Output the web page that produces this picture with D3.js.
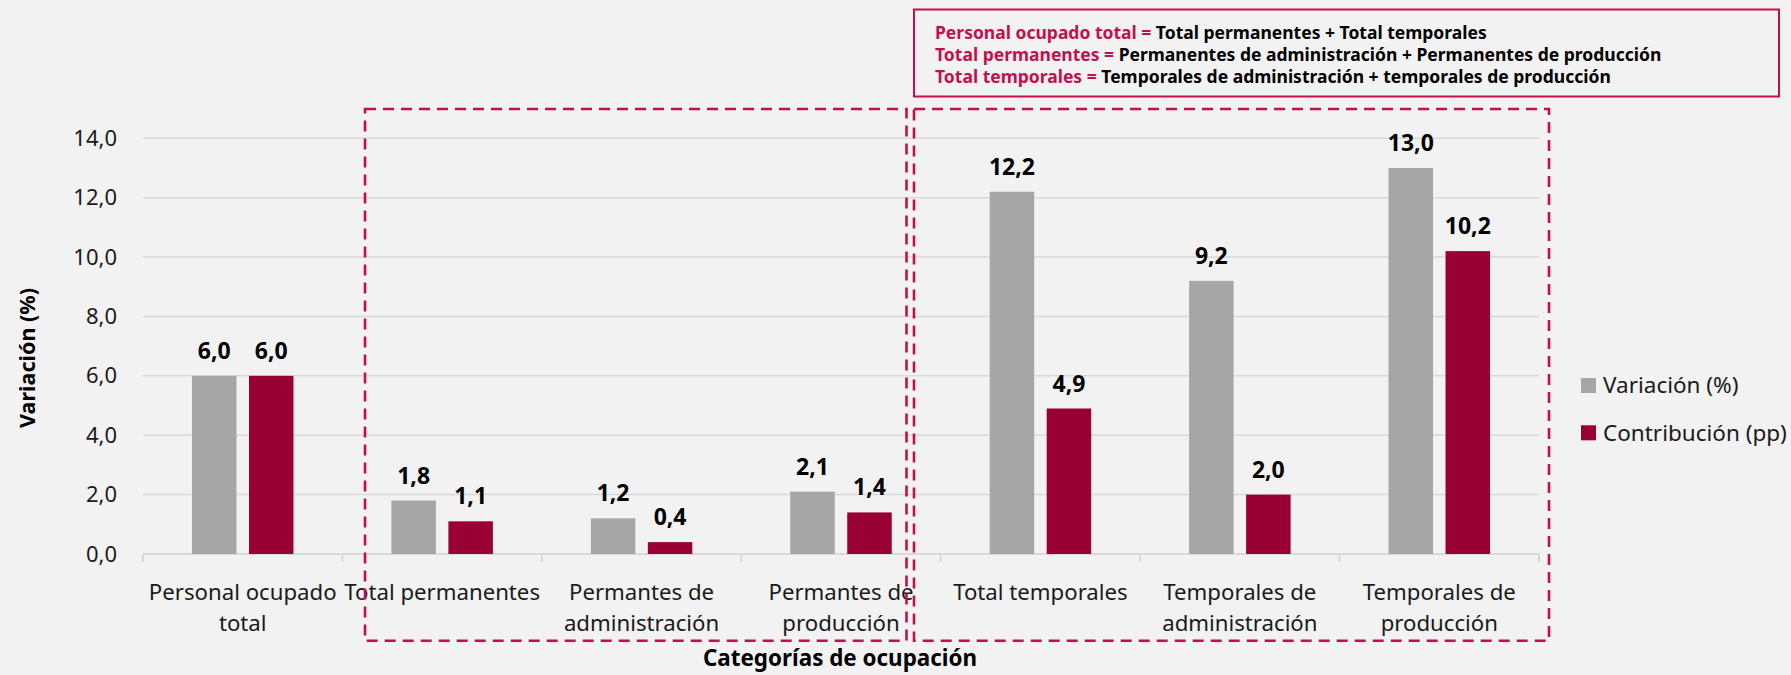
<!DOCTYPE html>
<html>
<head>
<meta charset="utf-8">
<script src="https://cdn.jsdelivr.net/npm/d3@7"></script>
<style>
  html, body { margin: 0; padding: 0; background: #F2F2F2; }
  svg { display: block; font-family: "Noto Sans", "Open Sans", sans-serif; }
</style>
</head>
<body>
<svg id="chart" width="1791" height="675"></svg>
<script>
// ---- data ----
const categories = [
  "Personal ocupado total",
  "Total permanentes",
  "Permantes de administración",
  "Permantes de producción",
  "Total temporales",
  "Temporales de administración",
  "Temporales de producción"
];
const seriesNames = ["Variación (%)", "Contribución (pp)"];
const variacion = [6.0, 1.8, 1.2, 2.1, 12.2, 9.2, 13.0];
const contribucion = [6.0, 1.1, 0.4, 1.4, 4.9, 2.0, 10.2];
const yTicks = [0, 2, 4, 6, 8, 10, 12, 14];
const noteLines = [
  ["Personal ocupado total = ", "Total permanentes + Total temporales"],
  ["Total permanentes = ", "Permanentes de administración + Permanentes de producción"],
  ["Total temporales = ", "Temporales de administración + temporales de producción"]
];
const yTitle = "Variación (%)";
const xTitle = "Categorías de ocupación";

const colors = ["#A6A6A6", "#990033"];
const accent = "#C2104F";

// ---- layout ----
const svg = d3.select("#chart");
const M = { left: 143, right: 1539, top: 138.3, bottom: 554 };
const locale = d3.formatLocale({ decimal: ",", thousands: ".", grouping: [3], currency: ["", ""] });
const fmt = locale.format(".1f");

const x = d3.scaleBand().domain(categories).range([M.left, M.right]).paddingInner(0).paddingOuter(0);
const y = d3.scaleLinear().domain([0, 14]).range([M.bottom, M.top]);
const barW = 44.5, gap = 12.5;
const x1 = d3.scaleBand().domain(seriesNames).range([0, 2 * barW + gap])
  .paddingInner(gap / (barW + gap)).paddingOuter(0);

// gridlines
svg.append("g").selectAll("line").data(yTicks.filter(d => d > 0)).join("line")
  .attr("x1", M.left).attr("x2", M.right)
  .attr("y1", d => y(d)).attr("y2", d => y(d))
  .attr("stroke", "#D9D9D9").attr("stroke-width", 1.5);

// y axis labels
const yAxis = svg.append("g").attr("transform", `translate(${M.left},0)`)
  .call(d3.axisLeft(y).tickValues(yTicks).tickFormat(fmt).tickSize(0).tickPadding(26));
yAxis.select(".domain").remove();
yAxis.selectAll("text").attr("font-size", 22).attr("fill", "#1a1a1a")
  .attr("font-family", "'Noto Sans', sans-serif");

// x axis
const xAxisG = svg.append("g").attr("transform", `translate(0,${M.bottom})`);
xAxisG.append("line").attr("x1", M.left).attr("x2", M.right).attr("y1", 0).attr("y2", 0)
  .attr("stroke", "#D9D9D9").attr("stroke-width", 2);
const boundaries = categories.map(c => x(c)).concat([M.right]);
xAxisG.selectAll("line.tick").data(boundaries).join("line").attr("class", "tick")
  .attr("x1", d => d).attr("x2", d => d).attr("y1", 0).attr("y2", 8)
  .attr("stroke", "#D9D9D9").attr("stroke-width", 2);

// category labels with wrapping
const catSize = 22.2;
function wrapLines(text, maxW, size) {
  const tmp = svg.append("text").attr("font-size", size).attr("visibility", "hidden");
  const words = text.split(" ");
  const lines = [];
  let line = [];
  words.forEach(w => {
    const test = line.concat([w]).join(" ");
    tmp.text(test);
    if (tmp.node().getComputedTextLength() > maxW && line.length) {
      lines.push(line.join(" "));
      line = [w];
    } else line.push(w);
  });
  if (line.length) lines.push(line.join(" "));
  tmp.remove();
  return lines;
}
categories.forEach(c => {
  const lines = wrapLines(c, 215, catSize);
  const t = svg.append("text").attr("text-anchor", "middle").attr("font-size", catSize).attr("fill", "#1a1a1a");
  lines.forEach((l, i) => {
    t.append("tspan").attr("x", x(c) + x.bandwidth() / 2).attr("y", 599.5 + i * 31.6).text(l);
  });
});

// bars
const groupOffset = (x.bandwidth() - (2 * barW + gap)) / 2;
const seriesData = [variacion, contribucion];
seriesNames.forEach((s, si) => {
  const g = svg.append("g");
  const rows = categories.map((c, i) => ({ c, v: seriesData[si][i] }));
  g.selectAll("rect").data(rows).join("rect")
    .attr("x", d => x(d.c) + groupOffset + x1(s))
    .attr("width", x1.bandwidth())
    .attr("y", d => y(d.v))
    .attr("height", d => y(0) - y(d.v))
    .attr("fill", colors[si]);
  g.selectAll("text").data(rows).join("text")
    .attr("x", d => x(d.c) + groupOffset + x1(s) + x1.bandwidth() / 2)
    .attr("y", d => y(d.v) - 17)
    .attr("text-anchor", "middle")
    .attr("font-size", 23).attr("font-weight", "bold").attr("fill", "#000")
    .text(d => fmt(d.v));
});

// dashed group boxes
const dash = "11,7";
svg.append("rect").attr("x", 365).attr("y", 109).attr("width", 906.5 - 365).attr("height", 640.7 - 109)
  .attr("fill", "none").attr("stroke", accent).attr("stroke-width", 2.6).attr("stroke-dasharray", dash);
svg.append("rect").attr("x", 914).attr("y", 109).attr("width", 1549 - 914).attr("height", 640.7 - 109)
  .attr("fill", "none").attr("stroke", accent).attr("stroke-width", 2.6).attr("stroke-dasharray", dash);

// note box
svg.append("rect").attr("x", 914).attr("y", 9.5).attr("width", 1779 - 914).attr("height", 96.5 - 9.5)
  .attr("fill", "none").attr("stroke", accent).attr("stroke-width", 2);
noteLines.forEach((ln, i) => {
  const t = svg.append("text").attr("x", 935).attr("y", 39 + i * 21.8)
    .attr("font-size", 17.5).attr("font-weight", "bold");
  t.append("tspan").attr("fill", accent).text(ln[0]);
  t.append("tspan").attr("fill", "#000").text(ln[1]);
});

// legend
const legend = svg.append("g");
seriesNames.forEach((s, i) => {
  legend.append("rect").attr("x", 1581).attr("y", 378 + i * 47.3).attr("width", 15).attr("height", 15).attr("fill", colors[i]);
  legend.append("text").attr("x", 1603).attr("y", 385.5 + i * 47.3).attr("dy", "0.35em")
    .attr("font-size", 22.5).attr("fill", "#1a1a1a").text(s);
});

// axis titles
svg.append("text").attr("transform", "translate(27,358) rotate(-90)").attr("text-anchor", "middle")
  .attr("dy", "0.35em").attr("font-size", 21.5).attr("font-weight", "bold").attr("fill", "#000").text(yTitle);
svg.append("text").attr("x", 840).attr("y", 658.5).attr("dy", "0.35em").attr("text-anchor", "middle")
  .attr("font-size", 22.4).attr("font-weight", "bold").attr("fill", "#000").text(xTitle);
</script>
</body>
</html>
